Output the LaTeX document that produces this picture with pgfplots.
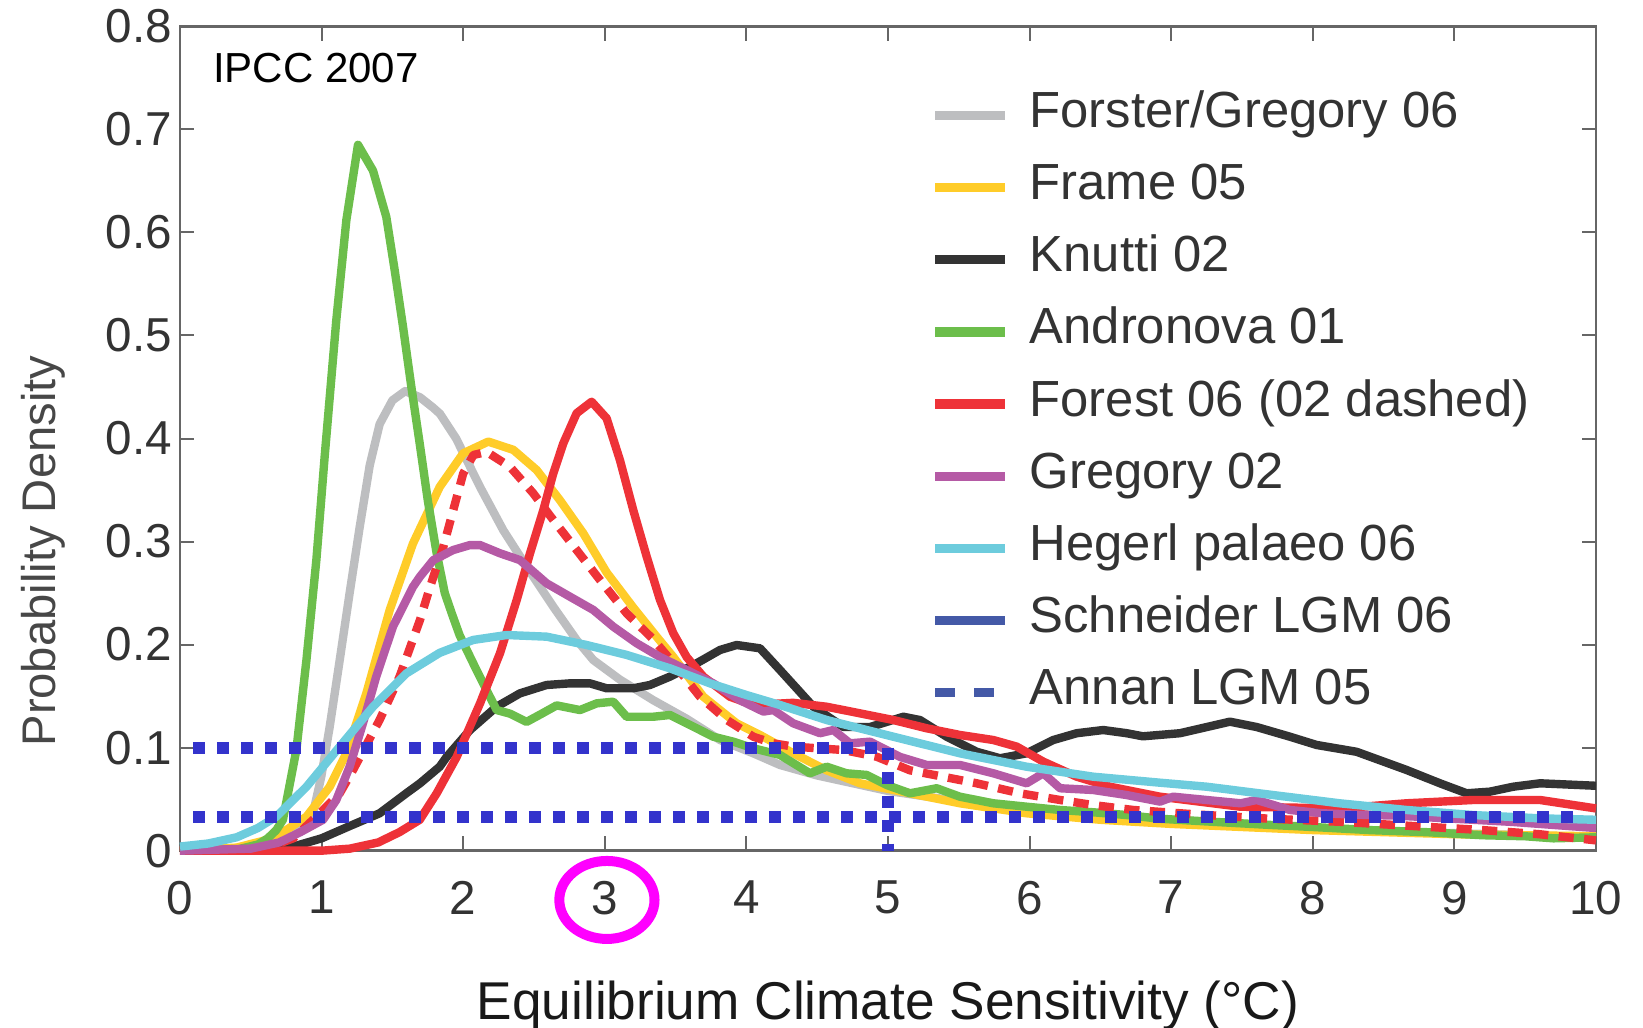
\documentclass[border=0pt]{standalone}
\usepackage{fontspec}
\setmainfont{Liberation Sans}
\usepackage{pgfplots}
\pgfplotsset{compat=1.18}

\definecolor{fgray}{RGB}{189,190,192}
\definecolor{frame}{RGB}{255,204,41}
\definecolor{knutti}{RGB}{51,51,51}
\definecolor{andr}{RGB}{108,190,75}
\definecolor{forest}{RGB}{238,50,56}
\definecolor{greg}{RGB}{181,90,165}
\definecolor{hegerl}{RGB}{109,204,221}
\definecolor{schn}{RGB}{68,89,167}
\definecolor{dotblue}{RGB}{51,51,204}
\definecolor{tcol}{RGB}{51,51,51}
\definecolor{ring}{RGB}{255,0,255}

\begin{document}
\begin{tikzpicture}
\useasboundingbox (-45pt,-44.325pt) rectangle (365.75pt,212.675pt);
\begin{axis}[
  at={(0,0)}, anchor=south west,
  scale only axis, width=354pt, height=206.1pt,
  xmin=0, xmax=10, ymin=0, ymax=0.8,
  clip=false,
  xtick={0,1,2,3,4,5,6,7,8,9,10},
  xticklabels={0,1,2,3,4,5,6,7,8,9,10},
  ytick={0,0.1,0.2,0.3,0.4,0.5,0.6,0.7,0.8},
  yticklabels={0,0.1,0.2,0.3,0.4,0.5,0.6,0.7,0.8},
  /pgf/number format/assume math mode=true,
  tick align=inside,
  major tick length=3.6pt,
  tick style={color=black!60, line width=0.5pt},
  axis line style={color=black!60, line width=0.6pt},
  ticklabel style={font=\fontsize{11.9}{14}\selectfont, text=tcol},
  xticklabel style={yshift=-4pt},
  yticklabel style={xshift=1.5pt},
  xlabel={Equilibrium Climate Sensitivity (°C)},
  ylabel={Probability Density},
  every axis x label/.style={at={(axis description cs:0.5,-0.188)}, anchor=center,
    inner sep=0pt, font=\fontsize{13.3}{16}\selectfont, text=black!90},
  every axis y label/.style={at={(axis description cs:-0.0963,0.3635)}, anchor=center,
    rotate=90, inner sep=0pt, font=\fontsize{11.8}{14}\selectfont, text=black!72},
  every axis plot/.append style={line width=2.1pt, line join=round, mark=none},
  legend style={at={(0.530,0.9209)}, anchor=north west, draw=none, fill=none,
    inner sep=0pt, outer sep=0pt, row sep=6.03pt, column sep=5pt,
    font=\fontsize{12.7}{15}\selectfont, text=tcol,
    nodes={inner sep=0pt, text height=9pt, text depth=3pt}},
  legend cell align=left,
  legend image code/.code={\draw[#1,line width=2.3pt] (0pt,0pt) -- (17.5pt,0pt);},
]

% Forster/Gregory 06
\addplot[color=fgray] coordinates {
(0,0) (0.6,0.002) (0.75,0.01) (0.85,0.02) (0.939,0.036) (0.998,0.072) (1.057,0.120)
(1.128,0.185) (1.198,0.250) (1.269,0.314) (1.34,0.374) (1.41,0.414) (1.50,0.437)
(1.59,0.446) (1.695,0.440) (1.787,0.430) (1.836,0.424) (1.95,0.400) (2.119,0.353)
(2.283,0.311) (2.448,0.2756) (2.636,0.2368) (2.801,0.2045) (2.919,0.185) (3.107,0.166)
(3.343,0.146) (3.578,0.128) (3.814,0.1074) (4.049,0.0945) (4.237,0.0832) (4.5,0.073)
(5,0.058) (5.5,0.048) (6,0.040) (6.5,0.034) (7,0.030) (7.5,0.026) (8,0.022)
(8.5,0.019) (9,0.017) (9.5,0.015) (10,0.013)
};
\addlegendentry{Forster/Gregory 06}

% Frame 05
\addplot[color=frame] coordinates {
(0,0) (0.4,0.003) (0.6,0.01) (0.75,0.02) (0.893,0.033) (1.057,0.062) (1.175,0.0945)
(1.316,0.1527) (1.481,0.2336) (1.645,0.298) (1.834,0.353) (2.0,0.3856) (2.177,0.397)
(2.354,0.389) (2.519,0.3694) (2.684,0.340) (2.848,0.308) (3.013,0.270) (3.201,0.236)
(3.366,0.2077) (3.484,0.188) (3.696,0.1494) (3.931,0.1236) (4.1,0.112) (4.331,0.0945)
(4.567,0.078) (4.802,0.0654) (5.155,0.0557) (5.508,0.046) (5.979,0.0363) (6.5,0.030)
(7,0.026) (7.5,0.023) (8,0.020) (8.5,0.018) (9,0.016) (9.5,0.015) (10,0.014)
};
\addlegendentry{Frame 05}

% Knutti 02
\addplot[color=knutti] coordinates {
(0,0) (0.6,0.001) (0.8,0.004) (1.0,0.012) (1.2,0.024) (1.41,0.0363) (1.598,0.0557)
(1.695,0.0654) (1.834,0.0815) (1.883,0.091) (2.048,0.1171) (2.236,0.1397) (2.401,0.1527)
(2.589,0.1608) (2.754,0.1624) (2.895,0.1624) (3.013,0.1576) (3.201,0.1576) (3.319,0.1608)
(3.46,0.1689) (3.649,0.1819) (3.814,0.1948) (3.931,0.1996) (4.096,0.1964) (4.237,0.1754)
(4.473,0.1397) (4.685,0.120) (4.873,0.120) (5.109,0.130) (5.226,0.1268) (5.415,0.1106)
(5.626,0.096) (5.791,0.0897) (5.979,0.0945) (6.167,0.1074) (6.333,0.114) (6.52,0.1171)
(6.686,0.114) (6.8,0.111) (7.062,0.114) (7.415,0.1252) (7.604,0.120) (7.839,0.1106)
(8.027,0.1026) (8.309,0.096) (8.663,0.0783) (8.898,0.0654) (9.087,0.0557) (9.251,0.0573)
(9.416,0.0621) (9.605,0.0654) (10,0.063)
};
\addlegendentry{Knutti 02}

% Andronova 01
\addplot[color=andr] coordinates {
(0,0) (0.4,0.001) (0.55,0.006) (0.62,0.012) (0.68,0.02) (0.727,0.030) (0.822,0.098)
(0.893,0.185) (0.963,0.282) (1.022,0.383) (1.104,0.515) (1.175,0.612) (1.257,0.685)
(1.363,0.660) (1.457,0.615) (1.516,0.5635) (1.575,0.5085) (1.634,0.450) (1.693,0.395)
(1.75,0.34) (1.811,0.29) (1.87,0.25) (1.92,0.23) (1.975,0.209) (2.095,0.175)
(2.236,0.1365) (2.33,0.133) (2.448,0.125) (2.542,0.132) (2.66,0.141) (2.825,0.1365)
(2.943,0.143) (3.06,0.1446) (3.154,0.130) (3.343,0.130) (3.46,0.1317) (3.578,0.1236)
(3.766,0.1106) (3.908,0.1058) (4.049,0.0994) (4.237,0.0929) (4.449,0.0751) (4.567,0.0815)
(4.708,0.0751) (4.85,0.0735) (4.99,0.0638) (5.155,0.0557) (5.344,0.0606) (5.508,0.0524)
(5.744,0.046) (5.979,0.0427) (6.215,0.0395) (6.448,0.0373) (6.686,0.0346) (6.92,0.031)
(7.3,0.028) (7.7,0.025) (8,0.023) (8.4,0.02) (8.8,0.018) (9.2,0.015) (9.5,0.014)
(9.7,0.012) (10,0.013)
};
\addlegendentry{Andronova 01}

% Forest 06
\addplot[color=forest] coordinates {
(0,0) (1.0,0.0) (1.2,0.002) (1.4,0.008) (1.55,0.018) (1.693,0.030) (1.813,0.0557)
(1.954,0.091) (2.119,0.143) (2.26,0.1916) (2.378,0.2433) (2.472,0.2886) (2.566,0.3306)
(2.636,0.366) (2.707,0.3953) (2.801,0.4245) (2.907,0.4357) (3.013,0.4196) (3.107,0.379)
(3.201,0.3306) (3.296,0.2853) (3.39,0.2433) (3.484,0.211) (3.578,0.188) (3.696,0.1689)
(3.884,0.1494) (4.049,0.1414) (4.33,0.1435) (4.567,0.1397) (4.802,0.1333) (5.038,0.1268)
(5.273,0.1188) (5.508,0.1123) (5.744,0.1074) (5.909,0.101) (6.097,0.0864) (6.333,0.0718)
(6.568,0.0621) (6.921,0.0524) (7.486,0.0427) (8.192,0.041) (8.663,0.046) (9.133,0.0492)
(9.605,0.0492) (10,0.041)
};
\addlegendentry{Forest 06 (02 dashed)}

% Forest 02 (dashed)
\addplot[color=forest, dash pattern=on 3.8pt off 2.6pt, forget plot] coordinates {
(0,0) (0.6,0.002) (0.8,0.012) (0.963,0.033) (1.128,0.0557) (1.222,0.0783) (1.41,0.127)
(1.551,0.169) (1.695,0.224) (1.766,0.256) (1.86,0.295) (1.93,0.3306) (2.0,0.366)
(2.072,0.384) (2.166,0.387) (2.33,0.3726) (2.495,0.3468) (2.636,0.321) (2.801,0.2918)
(2.966,0.2627) (3.154,0.2304) (3.343,0.205) (3.484,0.182) (3.672,0.1494) (3.86,0.127)
(4.049,0.1106) (4.19,0.1042) (4.331,0.101) (4.685,0.0977) (4.92,0.0912) (5.155,0.078)
(5.39,0.0718) (5.626,0.0654) (5.932,0.0557) (6.215,0.0492) (6.448,0.0443) (6.733,0.0395)
(7.2,0.035) (7.7,0.031) (8.2,0.028) (8.7,0.024) (9.2,0.02) (9.6,0.016) (10,0.01)
};

% Gregory 02
\addplot[color=greg] coordinates {
(0,0) (0.5,0.002) (0.7,0.008) (0.85,0.018) (1.01,0.03) (1.104,0.0492) (1.198,0.0815)
(1.292,0.1236) (1.386,0.169) (1.504,0.2174) (1.645,0.256) (1.695,0.266) (1.789,0.282)
(1.93,0.2918) (2.048,0.2966) (2.119,0.2966) (2.26,0.2886) (2.401,0.282) (2.589,0.2595)
(2.754,0.2465) (2.919,0.2336) (3.06,0.2174) (3.225,0.2013) (3.39,0.188) (3.578,0.1754)
(3.766,0.1624) (3.955,0.146) (4.12,0.135) (4.19,0.1365) (4.331,0.1236) (4.52,0.114)
(4.614,0.1171) (4.732,0.1042) (4.873,0.1058) (5.085,0.091) (5.273,0.0832) (5.508,0.0832)
(5.744,0.0751) (5.979,0.0654) (6.097,0.0751) (6.215,0.0606) (6.45,0.0589) (6.686,0.054)
(6.921,0.0476) (7.015,0.0524) (7.25,0.0492) (7.49,0.046) (7.604,0.0492) (7.839,0.0395)
(8.07,0.0363) (8.3,0.035) (8.6,0.034) (9,0.031) (9.4,0.028) (9.7,0.025) (10,0.022)
};
\addlegendentry{Gregory 02}

% Hegerl palaeo 06
\addplot[color=hegerl] coordinates {
(0,0.004) (0.2,0.007) (0.4,0.013) (0.55,0.022) (0.68,0.033) (0.893,0.062) (1.128,0.101)
(1.363,0.1397) (1.598,0.172) (1.834,0.192) (2.07,0.2045) (2.307,0.2093) (2.589,0.2077)
(2.872,0.1996) (3.154,0.19) (3.46,0.177) (3.743,0.1624) (4.002,0.151) (4.237,0.1414)
(4.567,0.1268) (5.038,0.1106) (5.508,0.0945) (5.979,0.0815) (6.45,0.0718) (6.92,0.066)
(7.25,0.0621) (7.72,0.054) (8.19,0.046) (8.663,0.0395) (9.133,0.0346) (9.605,0.0314)
(10,0.03)
};
\addlegendentry{Hegerl palaeo 06}

\addlegendimage{color=schn}
\addlegendentry{Schneider LGM 06}
\addlegendimage{color=schn, dash pattern=on 5pt off 4.8pt}
\addlegendentry{Annan LGM 05}

% dotted guide lines
\addplot[color=dotblue, line width=3pt, dash pattern=on 3pt off 3pt, forget plot]
  coordinates {(0.0918,0.1) (5,0.1)};
\addplot[color=dotblue, line width=3pt, dash pattern=on 3pt off 3pt, forget plot]
  coordinates {(0.0918,0.033) (9.85,0.033)};
\addplot[color=dotblue, line width=3pt, dash pattern=on 3pt off 3pt, forget plot]
  coordinates {(5,0.1) (5,0)};

\node[font=\fontsize{10.5}{12}\selectfont, text=black, anchor=center]
  at (rel axis cs:0.096,0.949) {IPCC 2007};
\draw[color=ring, line width=2.5pt] (axis cs:3.015,-0.0478)
  ellipse [x radius=11.9pt, y radius=9.75pt];
\end{axis}
\end{tikzpicture}
\end{document}
